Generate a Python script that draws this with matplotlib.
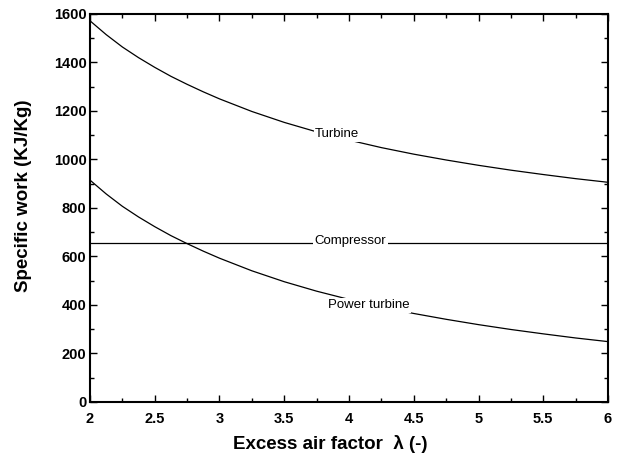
#!/usr/bin/env python3
import matplotlib
matplotlib.use("Agg")
import matplotlib.pyplot as plt
from matplotlib.ticker import MultipleLocator

plt.rcParams["font.family"] = ["Liberation Sans", "DejaVu Sans"]

# specific work vs excess air factor
lam = [2.0, 2.125, 2.25, 2.375, 2.5, 2.625, 2.75, 2.875, 3.0,
       3.25, 3.5, 3.75, 4.0, 4.25, 4.5, 4.75, 5.0, 5.25, 5.5, 5.75, 6.0]
turbine = [1572, 1515, 1464, 1420, 1380, 1343, 1310, 1279, 1250,
           1198, 1153, 1114, 1080, 1049, 1022, 998, 976, 956, 938, 921, 906]
power_turbine = [915, 858, 807, 763, 723, 686, 653, 622, 593,
                 541, 496, 457, 423, 392, 365, 341, 319, 299, 281, 264, 249]
compressor = [657] * len(lam)

# inline curve labels: (text, lambda, value)
curve_labels = [
    ("Turbine", 3.91, 1105),
    ("Compressor", 4.01, 665),
    ("Power turbine", 4.15, 398),
]

fig = plt.figure(figsize=(6.24, 4.59), dpi=100)
ax = fig.add_axes([0.1442, 0.1242, 0.8302, 0.8453])

for series in (turbine, compressor, power_turbine):
    ax.plot(lam, series, color="black", linewidth=0.9)

for text, x, y in curve_labels:
    ax.text(x, y, text, fontsize=9.5, ha="center", va="center",
            bbox=dict(facecolor="white", edgecolor="none", pad=1.2))

ax.set_xlim(2, 6)
ax.set_ylim(0, 1600)
ax.xaxis.set_major_locator(MultipleLocator(0.5))
ax.xaxis.set_minor_locator(MultipleLocator(0.25))
ax.yaxis.set_major_locator(MultipleLocator(200))
ax.yaxis.set_minor_locator(MultipleLocator(100))
ax.set_xticks([2, 2.5, 3, 3.5, 4, 4.5, 5, 5.5, 6])
ax.set_xticklabels(["2", "2.5", "3", "3.5", "4", "4.5", "5", "5.5", "6"])

ax.tick_params(which="both", direction="in", top=True, right=True,
               width=1.0, labelsize=10.5)
ax.tick_params(axis="x", pad=7)
ax.tick_params(axis="y", pad=2.5)
ax.tick_params(which="major", length=5)
ax.tick_params(which="minor", length=3)
for lbl in ax.get_xticklabels() + ax.get_yticklabels():
    lbl.set_fontweight("bold")
for sp in ax.spines.values():
    sp.set_linewidth(1.5)

ax.set_xlabel("Excess air factor  \u03bb (-)", fontsize=13.5, fontweight="bold")
ax.set_ylabel("Specific work (KJ/Kg)", fontsize=13.5, fontweight="bold")
ax.xaxis.set_label_coords(0.463, -0.085)
ax.yaxis.set_label_coords(-0.112, 0.531)

fig.savefig("out.png", dpi=100)
